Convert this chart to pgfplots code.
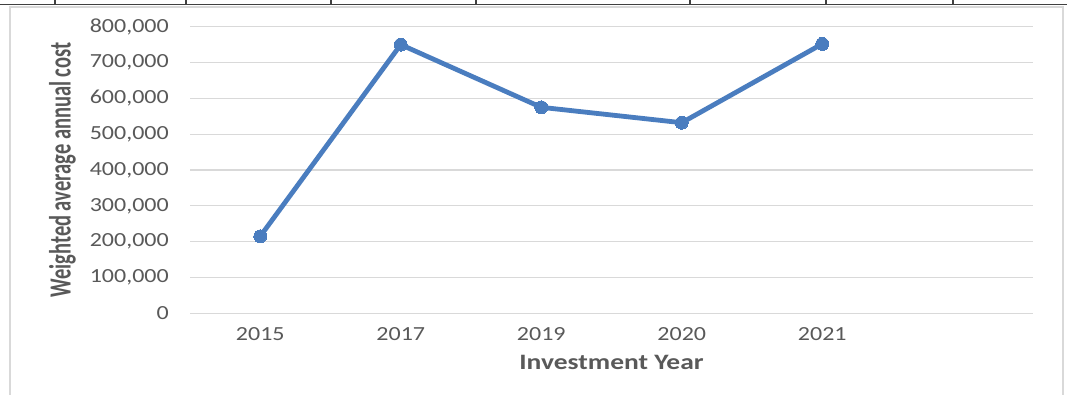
\documentclass[border=0pt]{standalone}
\usepackage{fontspec}
\setmainfont{Carlito}
\newfontfamily\tickfont[FakeStretch=1.2]{Carlito}
\newfontfamily\titlefont[FakeStretch=1.25]{Carlito}
\usepackage{graphicx}
\usepackage{pgfplots}
\pgfplotsset{compat=1.18}
\definecolor{lineblue}{HTML}{4A7DBF}
\definecolor{gridgray}{HTML}{D9D9D9}
\definecolor{txtgray}{HTML}{595959}
\definecolor{tablegray}{HTML}{404040}
\begin{document}
\begin{tikzpicture}[x=1pt,y=1pt]
\useasboundingbox (0,0) rectangle (1067,394);
\fill[white] (0,0) rectangle (1067,394);
% table rule above chart
\draw[tablegray, line width=1.8pt] (0,389.5) -- (1067,389.5);
\foreach \xx in {55,186,331,476,690,826,953}{
  \draw[tablegray, line width=1.1pt] (\xx,389.5) -- (\xx,394);
}
% chart frame
\draw[gridgray, line width=1.2pt] (10,-5) -- (10,387) -- (1063,387) -- (1063,-5);
\begin{axis}[
  at={(190pt,80.7pt)}, anchor=south west,
  scale only axis, width=843pt, height=286.6pt,
  xmin=-0.5, xmax=5.5, ymin=0, ymax=800000,
  xtick={0,1,2,3,4}, xticklabels={2015,2017,2019,2020,2021},
  ytick={0,100000,...,800000},
  scaled y ticks=false,
  /pgf/number format/assume math mode=true,
  yticklabel style={/pgf/number format/fixed, /pgf/number format/1000 sep={,},
     font=\tickfont\fontsize{20}{24}\selectfont, text=txtgray, anchor=east, inner sep=0pt, xshift=-21pt},
  xticklabel style={font=\tickfont\fontsize{20}{24}\selectfont, text=txtgray, anchor=center, inner sep=0pt, yshift=-21pt},
  major tick length=0pt,
  tick style={draw=none},
  axis line style={draw=none},
  ymajorgrids, major grid style={gridgray, line width=1.3pt},
  xlabel={\titlefont\bfseries\fontsize{22}{26}\selectfont Investment Year},
  xlabel style={at={(axis description cs:0.5,-0.17)}, anchor=center, text=txtgray, inner sep=0pt},
  ylabel={\scalebox{1}[1.5]{\bfseries\fontsize{20.5}{24}\selectfont Weighted average annual cost}},
  ylabel style={at={(axis description cs:-0.1512,0.5)}, anchor=center, rotate=0, text=txtgray, inner sep=0pt},
  clip=false,
]
\addplot[lineblue, line width=4.8pt, mark=*, mark size=6.5pt, mark options={solid, fill=lineblue, draw=lineblue, line width=0pt}, line join=round]
  coordinates {(0,215000) (1,750000) (2,575000) (3,532000) (4,752000)};
\end{axis}
\end{tikzpicture}
\end{document}
